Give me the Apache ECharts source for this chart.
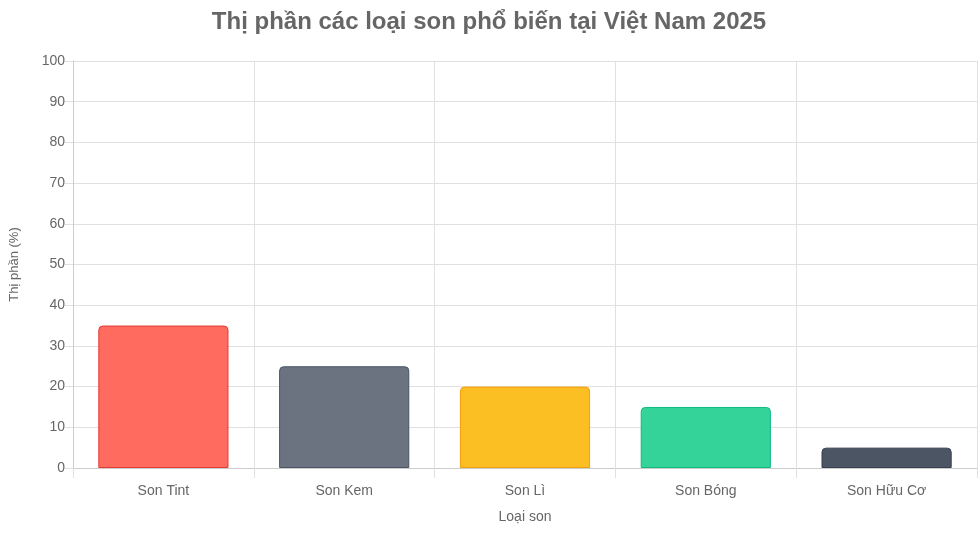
<!DOCTYPE html>
<html>
<head>
<meta charset="utf-8">
<script src="https://cdn.jsdelivr.net/npm/echarts@6/dist/echarts.min.js"></script>
<style>html,body{margin:0;padding:0;background:#fff}#chart{width:978px;height:533px}</style>
</head>
<body>
<div id="chart"></div>
<script>
// dữ liệu biểu đồ
const categories = ['Son Tint', 'Son Kem', 'Son Lì', 'Son Bóng', 'Son Hữu Cơ'];
const shares = [35, 25, 20, 15, 5];
const fillColors = ['#ff6b5f', '#6b7280', '#fbbf24', '#34d399', '#4b5563'];
const borderColors = ['#e53935', '#4b5563', '#f59e0b', '#10b981', '#374151'];

const chart = echarts.init(document.getElementById('chart'));
const font = 'Helvetica, Arial, sans-serif';

chart.setOption({
  animation: false,
  title: {
    text: 'Thị phần các loại son phổ biến tại Việt Nam 2025',
    left: 'center', top: 5,
    textStyle: { fontSize: 24, fontWeight: 'bold', color: '#666', fontFamily: font }
  },
  grid: { left: 70, right: 1, top: 61, bottom: 65, containLabel: false },
  xAxis: {
    type: 'category',
    data: categories,
    name: 'Loại son', nameLocation: 'middle', nameGap: 42,
    nameTextStyle: { fontSize: 14, color: '#666', fontFamily: font },
    axisLine: { lineStyle: { color: '#ccc' } },
    axisTick: { show: true, length: 10, lineStyle: { color: '#e0e0e0' } },
    axisLabel: { fontSize: 14, color: '#666', margin: 16, fontFamily: font },
    splitLine: { show: true, lineStyle: { color: '#e0e0e0' } }
  },
  yAxis: {
    type: 'value', min: 0, max: 100, interval: 10,
    name: 'Thị phần (%)', nameLocation: 'middle', nameGap: 52,
    nameTextStyle: { fontSize: 13, color: '#666', fontFamily: font },
    axisLine: { show: true, lineStyle: { color: '#ccc' } },
    axisTick: { show: true, length: 8, lineStyle: { color: '#e0e0e0' } },
    axisLabel: { fontSize: 14, color: '#666', margin: 8, fontFamily: font },
    splitLine: { lineStyle: { color: '#e0e0e0' } }
  },
  series: [{
    type: 'bar',
    barWidth: '72%',
    data: shares.map((v, i) => ({
      value: v,
      itemStyle: { color: fillColors[i], borderColor: borderColors[i], borderWidth: 1, borderRadius: [4, 4, 0, 0] }
    }))
  }]
});
</script>
</body>
</html>
